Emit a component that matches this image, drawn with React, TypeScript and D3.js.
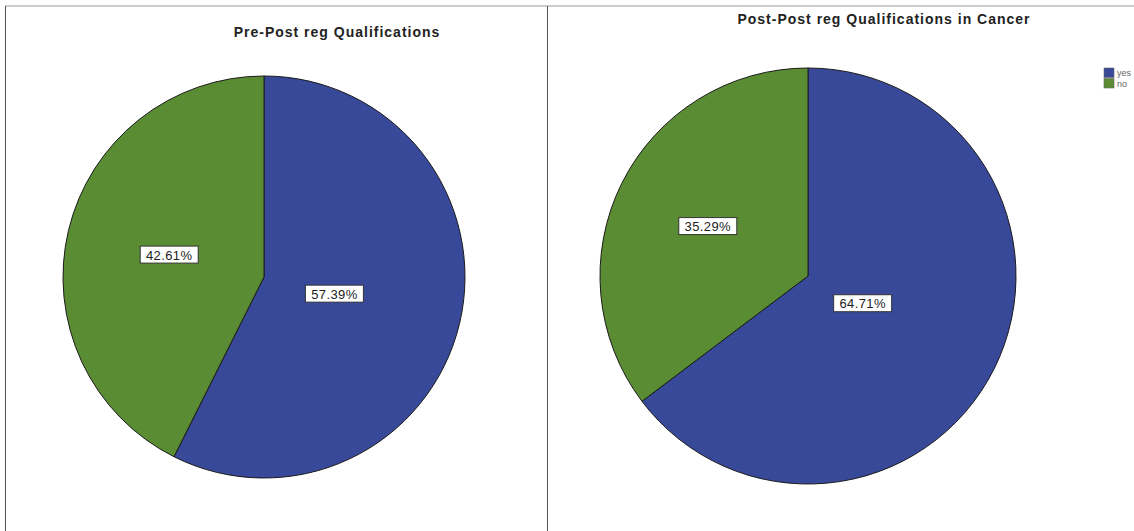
import React from 'react';
import * as d3 from 'd3';

const WIDTH = 1134;
const HEIGHT = 531;

const categories = ['yes', 'no'];
const prePostValues = [57.39, 42.61];
const postPostValues = [64.71, 35.29];
const sliceColors = ['#38499a', '#5a8d33'];

const charts = [
  { title: 'Pre-Post reg Qualifications', values: prePostValues, cx: 264, cy: 277, r: 201, titleX: 337, titleY: 37 },
  { title: 'Post-Post reg Qualifications in Cancer', values: postPostValues, cx: 808, cy: 276, r: 208, titleX: 884, titleY: 24 },
];

type PieDatum = { cat: string; value: number; color: string };

// centroid of a circular sector, along its bisector
function sectorCentroid(a: d3.PieArcDatum<PieDatum>, r: number): [number, number] {
  const half = (a.endAngle - a.startAngle) / 2;
  const mid = a.startAngle + half;
  const dist = (2 * r * Math.sin(half)) / (3 * half);
  return [dist * Math.sin(mid), -dist * Math.cos(mid)];
}

function PieChart({ chart }: { chart: typeof charts[number] }) {
  const data: PieDatum[] = categories.map((c, i) => ({ cat: c, value: chart.values[i], color: sliceColors[i] }));
  const pie = d3.pie<PieDatum>().sort(null).value(d => d.value);
  const arc = d3.arc<d3.PieArcDatum<PieDatum>>().innerRadius(0).outerRadius(chart.r);
  const arcs = pie(data);
  return (
    <g>
      <text x={chart.titleX} y={chart.titleY} textAnchor="middle" fontFamily="Liberation Sans, Arial, sans-serif"
        fontWeight="bold" fontSize={14} letterSpacing={1} fill="#222">{chart.title}</text>
      <g transform={`translate(${chart.cx},${chart.cy})`}>
        {arcs.map(a => (
          <path key={a.data.cat} d={arc(a) || ''} fill={a.data.color} stroke="#1a1a1a" strokeWidth={1} />
        ))}
        {arcs.map(a => {
          const [x, y] = sectorCentroid(a, chart.r);
          const label = `${a.data.value.toFixed(2)}%`;
          const w = 58;
          const h = 17;
          return (
            <g key={'l' + a.data.cat} transform={`translate(${x},${y})`}>
              <rect x={-w / 2} y={-h / 2} width={w} height={h} fill="#fff" stroke="#333" strokeWidth={1} />
              <text x={0} y={5} textAnchor="middle" fontFamily="Liberation Sans, Arial, sans-serif" fontSize={13}
                letterSpacing={0.4} fill="#222">{label}</text>
            </g>
          );
        })}
      </g>
    </g>
  );
}

export default function App() {
  return (
    <svg width={WIDTH} height={HEIGHT} style={{ position: 'absolute', left: 0, top: 0, background: '#fff' }}>
      <rect x={0} y={0} width={WIDTH} height={HEIGHT} fill="#fff" />
      {/* panel frame */}
      <line x1={5} y1={6} x2={WIDTH} y2={6} stroke="#999" strokeWidth={1.2} />
      <line x1={5.5} y1={6} x2={5.5} y2={HEIGHT} stroke="#555" strokeWidth={1} />
      <line x1={547.5} y1={6} x2={547.5} y2={HEIGHT} stroke="#555" strokeWidth={1} />
      {charts.map(c => <PieChart key={c.title} chart={c} />)}
      {/* legend */}
      {categories.map((c, i) => (
        <g key={c} transform={`translate(1104,${68 + i * 10.5})`}>
          <rect width={10} height={9.5} fill={sliceColors[i]} stroke="#666" strokeWidth={0.6} />
          <text x={13} y={8} fontFamily="Liberation Sans, Arial, sans-serif" fontSize={9} fill="#666">{c}</text>
        </g>
      ))}
    </svg>
  );
}
